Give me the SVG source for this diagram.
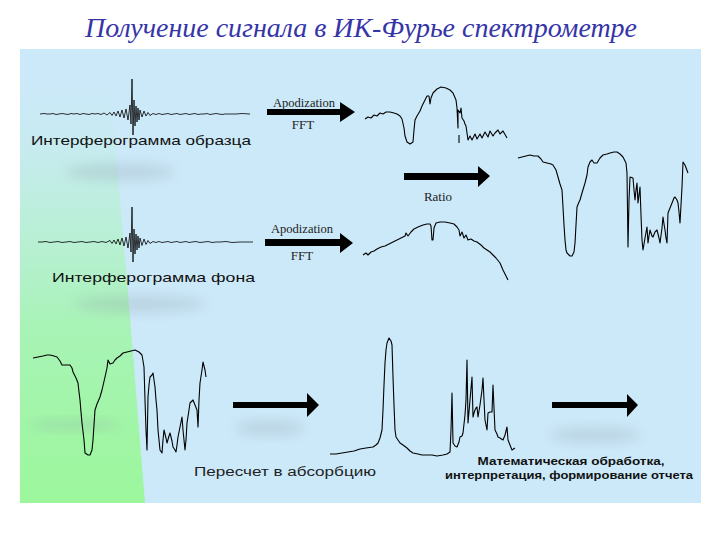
<svg xmlns="http://www.w3.org/2000/svg" width="720" height="540" viewBox="0 0 720 540">
<defs>
<linearGradient id="gr" x1="0" y1="0" x2="0" y2="1">
<stop offset="0" stop-color="#cce9f9" stop-opacity="0"/>
<stop offset="0.3" stop-color="#bcefdc" stop-opacity="0.8"/>
<stop offset="0.6" stop-color="#a8f3b6"/>
<stop offset="1" stop-color="#9cf79c"/>
</linearGradient>
<filter id="blur" x="-50%" y="-50%" width="200%" height="200%"><feGaussianBlur stdDeviation="6"/></filter>
<style>
.title{font-family:"Liberation Serif","DejaVu Serif",serif;font-style:italic;font-size:27px;fill:#3535a8}
.lbl{font-family:"Liberation Sans","DejaVu Sans",sans-serif;font-size:13px;fill:#111}
.lblb{font-family:"Liberation Sans","DejaVu Sans",sans-serif;font-size:11px;font-weight:bold;fill:#111}
.ser{font-family:"Liberation Serif","DejaVu Serif",serif;font-size:13px;fill:#222}
.sp{fill:none;stroke:#000;stroke-width:1.1;stroke-linejoin:round}
.ig{fill:none;stroke:#000;stroke-width:0.8}
.arr{fill:#000}
.sh{fill:#8a9aa5;opacity:0.25;filter:url(#blur)}
</style>
</defs>
<rect width="720" height="540" fill="#fff"/>
<text class="title" x="361" y="37" text-anchor="middle" textLength="552" lengthAdjust="spacingAndGlyphs">Получение сигнала в ИК-Фурье спектрометре</text>
<g id="panel">
<rect x="20" y="49" width="681" height="454" fill="#cce9f9"/>
<polygon points="20,60 108,60 127,280 145,503 20,503" fill="url(#gr)"/>
<ellipse class="sh" cx="120" cy="172" rx="55" ry="9"/>
<ellipse class="sh" cx="140" cy="304" rx="65" ry="9"/>
<ellipse class="sh" cx="270" cy="428" rx="35" ry="8"/>
<ellipse class="sh" cx="595" cy="435" rx="45" ry="8"/>
<ellipse class="sh" cx="75" cy="425" rx="45" ry="5" opacity="0.15"/>
</g>
<g id="sample-interferogram">
<polyline class="ig" points="40,114 44,113.5 47,114 50,114 53,113.5 56,114.5 59,114 62,113.5 65,114 68,114.5 71,113.5 74,114 77,113.5 80,114.5 83,113.5 86,114 89,114.5 92,113.5 95,114 98,113.5 101,114.5 104,113 107,115 110,112.5 112,115.5 114,112 116,116 118,111 120,117 122,110 124,118 126,109 128,120 130,105 131,124 132,79 133,135 134,100 135,126 136,106 137,122 138,108 139,120 140,110 142,117 144,111 146,116 148,112.5 150,115.5 153,113.5 156,114.5 159,113.5 162,114.5 165,114 168,113.5 171,114.5 174,114 177,113.5 180,114.5 183,114 186,113.5 189,114.5 192,114 195,113.5 198,114.5 201,114 204,114 207,113.5 210,114.5 213,114 216,113.5 219,114 222,114.5 225,114 230,114 236,114 242,113.5 250,114"/>
<text class="lbl" x="31" y="145" textLength="220" lengthAdjust="spacingAndGlyphs">Интерферограмма образца</text>
</g>
<g id="background-interferogram">
<polyline class="ig" points="38,242 42,242 46,241.5 50,242.5 54,242 58,241.5 62,242.5 66,242 70,241.5 74,242.5 78,242 82,241.5 86,242.5 90,242 94,241.5 98,242.5 102,241.5 106,242.5 110,240.5 112,243.5 114,240 116,244 118,239 120,245 122,238 124,246 126,237 128,248 130,233 131,252 132,207 133,262 134,229 135,254 136,234 137,250 138,236 139,248 140,238 142,245.5 144,239 146,244.5 148,240.5 150,243.5 153,241.5 156,242.5 159,241.5 162,242.5 165,242 168,241.5 171,242.5 174,242 177,241.5 180,242.5 183,242 186,241.5 189,242.5 192,242 196,241.5 200,242.5 204,242 208,241.5 212,242.5 216,242 220,242 226,241.5 232,242.5 240,242 253,242"/>
<text class="lbl" x="52" y="282" textLength="203" lengthAdjust="spacingAndGlyphs">Интерферограмма фона</text>
</g>
<g id="sample-spectrum">
<polyline class="sp" points="365,119 368,117 371,118 374,115 377,116 380,113 383,114 386,112 390,112 394,113 397,114 400,116 402,119 404,128 405,136 407,142 410,144 413,142 414,130 415,120 417,116 420,111 422,106 425,100 427,96 429,96 430,104 431,98 433,93 437,89 441,87 446,88 450,90 453,93 456,100 457,108 458,128 458,110 460,113 461,108 462,118 464,121 465,124 466,126 468,140 470,136 472,140 475,134 477,139 480,134 482,138 485,132 488,137 490,131 493,136 495,133 498,130 500,134 503,131 507,138"/>
<line class="sp" x1="459" y1="135" x2="459" y2="143"/>
</g>
<g id="background-spectrum">
<polyline class="sp" points="363,255 366,253 368,255 371,252 374,251 377,249 381,247 385,246 389,244 393,242 397,240 401,238 405,236 406,233 408,236 411,232 414,229 418,227 423,225 427,224 430,224 431,226 432,240 433,240 434,228 436,223 440,222 445,222 450,223 454,224 457,227 459,230 460,236 462,232 464,238 466,235 468,240 471,239 474,241 477,242 481,245 484,248 487,250 490,252 493,255 496,258 500,263 503,270 506,276 508,280"/>
</g>
<g id="transmittance-spectrum">
<polyline class="sp" points="518,158 522,157 526,156 530,155 534,156 538,156 541,159 543,162 547,163 551,164 553,165 556,170 558,177 560,184 562,190 563,207 564,225 565,240 566,250 567,253 570,256 572,256 574,252 575,243 576,225 577,207 579,202 580,200 582,193 585,183 587,175 588,167 590,162 592,160 594,163 597,163 600,158 603,155 607,154 610,153 614,152 617,152 620,154 623,157 626,163 627,173 628,247 629,200 630,177 633,178 634,190 635,200 636,190 637,183 638,203 639,195 640,187 641,215 642,240 643,250 645,238 647,227 648,243 649,236 650,230 652,236 653,237 655,232 657,230 659,238 660,243 662,228 663,217 664,224 665,230 666,238 667,243 668,213 670,208 672,203 674,198 675,197 677,200 678,203 679,212 680,223 681,205 682,187 683,162 685,165 688,173"/>
</g>
<g id="transmittance-spectrum-2">
<polyline class="sp" points="33,358 38,357 43,356 47,355 50,355 54,356 57,357 60,361 62,365 66,365 70,365 72,368 73,372 76,378 78,383 79,392 80,400 81,412 82,423 84,440 85,453 88,455 90,455 92,450 93,440 94,425 95,410 97,404 100,397 102,390 105,377 107,368 108,360 110,364 113,363 115,360 117,358 120,356 123,353 127,352 131,351 135,350 139,352 142,355 144,367 145,400 146,430 147,450 148,397 149,385 150,377 152,375 153,373 154,380 155,387 156,400 157,410 158,430 159,440 160,450 162,453 163,440 164,430 166,438 167,443 169,436 170,433 172,441 173,447 175,450 176,452 177,445 178,437 180,427 182,417 183,430 185,450 186,440 187,423 189,410 190,403 192,401 193,400 195,405 197,410 198,427 199,400 200,383 202,370 203,362 205,370 206,377"/>
</g>
<g id="absorbance-spectrum">
<polyline class="sp" points="330,454 336,454 342,453 348,452 354,451 360,449 366,448 373,447 376,445 378,443 380,438 382,430 383,410 384,385 385,363 386,350 387,343 389,338 391,341 392,345 393,377 394,405 395,430 396,437 398,440 400,443 403,445 407,448 410,451 413,453 418,454 422,455 427,455 432,455 437,456 443,455 447,454 450,452 451,430 452,393 453,443 455,446 457,447 459,442 460,437 462,436 463,433 465,415 466,400 467,360 468,423 470,400 472,377 473,417 474,413 475,410 476,408 477,407 478,417 480,405 482,390 483,378 484,400 485,420 486,425 487,430 488,413 490,412 492,412 493,385 494,408 495,430 497,434 498,437 500,438 503,440 505,435 507,427 508,440 510,445 512,450 515,448"/>
</g>
<g id="connectors">
<polygon class="arr" points="267,109 340,109 340,102 355,112 340,122 340,115 267,115"/>
<polygon class="arr" points="265,239 340,239 340,233 353,243 340,253 340,246 265,246"/>
<polygon class="arr" points="404,173 478,173 478,166 490,176 478,187 478,180 404,180"/>
<polygon class="arr" points="233,402 307,402 307,393 319,405 307,417 307,408 233,408"/>
<polygon class="arr" points="552,402 627,402 627,394 638,405 627,417 627,408 552,408"/>
<text class="ser" x="304" y="107" text-anchor="middle" textLength="62" lengthAdjust="spacingAndGlyphs">Apodization</text>
<text class="ser" x="303" y="129" text-anchor="middle">FFT</text>
<text class="ser" x="302" y="233" text-anchor="middle" textLength="62" lengthAdjust="spacingAndGlyphs">Apodization</text>
<text class="ser" x="302" y="260" text-anchor="middle">FFT</text>
<text class="ser" x="438" y="201" text-anchor="middle">Ratio</text>
</g>
<g id="labels">
<text class="lbl" x="194" y="476" textLength="182" lengthAdjust="spacingAndGlyphs" style="font-size:12px;fill:#222">Пересчет в абсорбцию</text>
<text class="lblb" x="571" y="465" text-anchor="middle" textLength="187" lengthAdjust="spacingAndGlyphs">Математическая обработка,</text>
<text class="lblb" x="569" y="479" text-anchor="middle" textLength="248" lengthAdjust="spacingAndGlyphs">интерпретация, формирование отчета</text>
</g>
</svg>
